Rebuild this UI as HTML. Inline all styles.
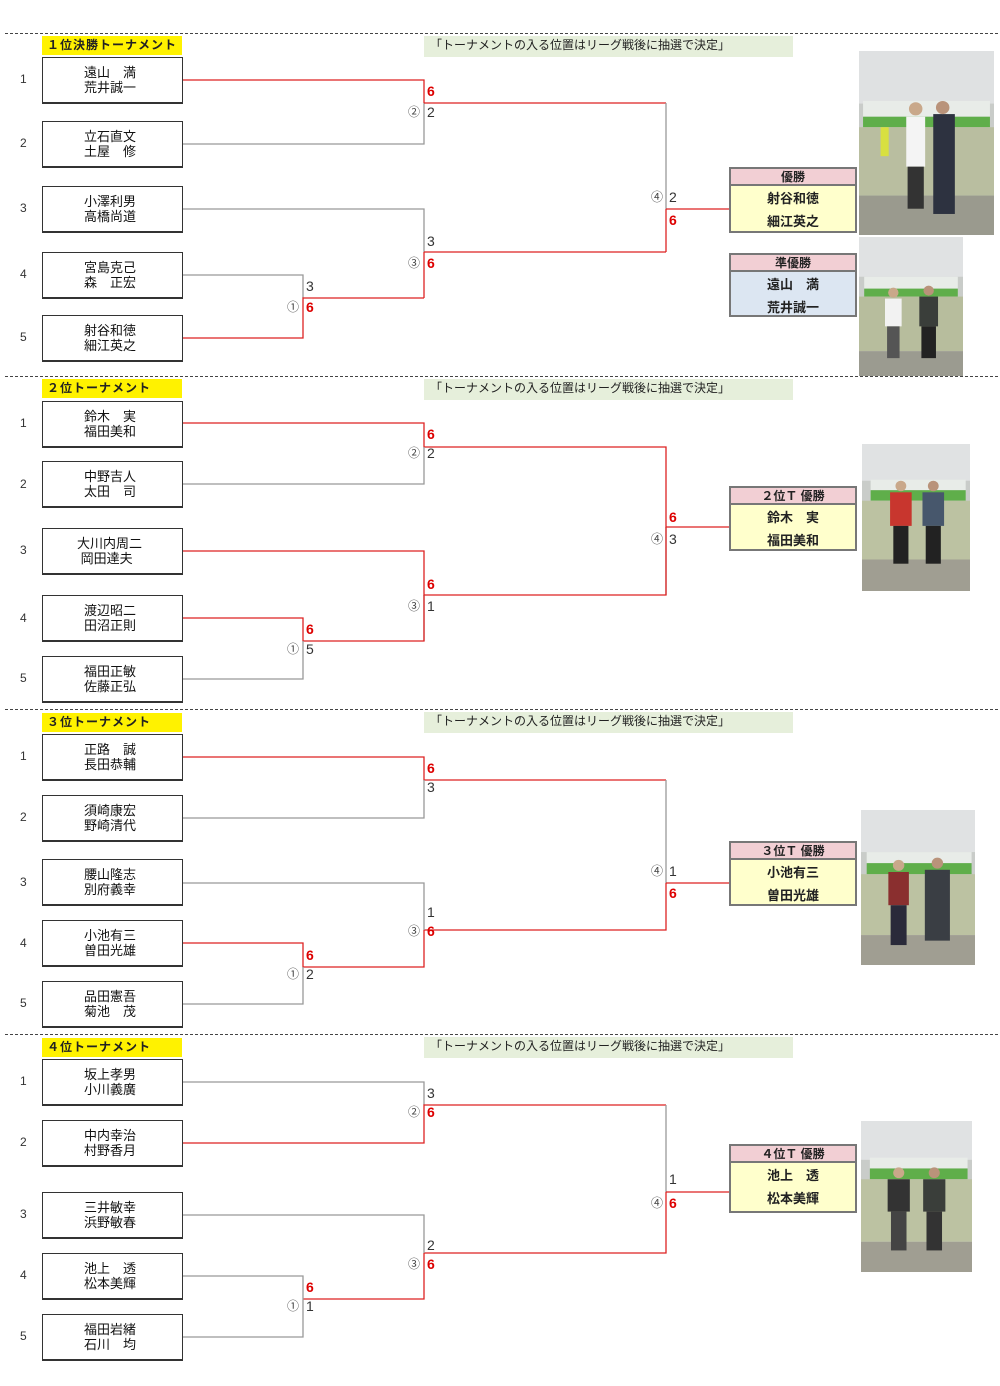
<!DOCTYPE html>
<html><head><meta charset="utf-8">
<style>
*{margin:0;padding:0;box-sizing:border-box}
body{width:1000px;height:1386px;position:relative;background:#fff;font-family:"Liberation Sans","Noto Sans CJK JP",sans-serif;overflow:hidden}
.a{position:absolute}
.dash{position:absolute;left:5px;width:993px;height:0;border-top:1px dashed #444}
.ttl{position:absolute;left:42px;width:140px;height:19px;background:#fff200;font-size:12px;line-height:19px;padding-left:5px;font-weight:bold;color:#222;letter-spacing:1px}
.note{position:absolute;left:424px;width:369px;height:21px;background:#e6efdb;font-size:12px;line-height:19px;padding-left:6px;color:#222}
.bx{position:absolute;left:42px;width:141px;height:47px;border:2px solid #333;border-right-width:1px;border-top-width:1px;border-left-width:1px;border-bottom-width:2px;font-size:13px;line-height:15px;padding-top:7px;padding-left:41px;color:#111;background:#fff}
.n{position:absolute;left:20px;font-size:12px;color:#333}
.s{position:absolute;font-size:14px;line-height:16px;color:#333}
.r{color:#d00;font-weight:bold}
.c{position:absolute;font-size:12px;line-height:16px;color:#444}
.rh{position:absolute;left:729px;width:128px;height:19px;background:#f2cfd4;border:2px solid #777;font-size:12px;font-weight:bold;text-align:center;line-height:16px;color:#222}
.rb{position:absolute;left:729px;width:128px;border:2px solid #777;border-top:none;font-size:13px;font-weight:bold;text-align:center;color:#222;line-height:23px;padding-top:1px}
.ph{position:absolute}
</style></head><body>

<svg class="a" style="left:0;top:0" width="1000" height="1386">
<g fill="none" stroke-width="1.3">
<!-- section1 -->
<path d="M183 80H424V103" stroke="#d22"/>
<path d="M183 144H424V103" stroke="#999"/>
<path d="M424 103H666" stroke="#d22"/>
<path d="M666 103V209" stroke="#999"/>
<path d="M666 209V252" stroke="#d22"/>
<path d="M666 209H729" stroke="#d22"/>
<path d="M183 209H424V252" stroke="#999"/>
<path d="M424 252V298" stroke="#d22"/>
<path d="M424 252H666" stroke="#d22"/>
<path d="M183 275H303V298" stroke="#999"/>
<path d="M183 338H303V298H424" stroke="#d22"/>
<!-- section2 -->
<path d="M183 423H424V447H666V527H729" stroke="#d22"/>
<path d="M183 484H424V447" stroke="#999"/>
<path d="M666 527V595" stroke="#999"/>
<path d="M183 551H424V595H666V527" stroke="#d22"/>
<path d="M424 595V641" stroke="#999"/>
<path d="M183 618H303V641H424V595" stroke="#d22"/>
<path d="M183 679H303V641" stroke="#999"/>
<!-- section3 -->
<path d="M183 757H424V780H666" stroke="#d22"/>
<path d="M183 818H424V780" stroke="#999"/>
<path d="M666 780V883" stroke="#999"/>
<path d="M666 883H729M666 883V930H424" stroke="#d22"/>
<path d="M183 883H424V930" stroke="#999"/>
<path d="M424 930V967H303V943H183" stroke="#d22"/>
<path d="M183 1004H303V967" stroke="#999"/>
<!-- section4 -->
<path d="M183 1082H424V1105" stroke="#999"/>
<path d="M183 1143H424V1105H666" stroke="#d22"/>
<path d="M666 1105V1192" stroke="#999"/>
<path d="M666 1192H729M666 1192V1253H424" stroke="#d22"/>
<path d="M183 1215H424V1253" stroke="#999"/>
<path d="M424 1253V1299H303" stroke="#d22"/>
<path d="M183 1276H303V1337H183" stroke="#999"/>
</g>
</svg>

<!-- Section 1 -->
<div class="dash" style="top:33px"></div>
<div class="ttl" style="top:36px">１位決勝トーナメント</div>
<div class="note" style="top:36px">「トーナメントの入る位置はリーグ戦後に抽選で決定」</div>
<div class="n" style="top:72px">1</div><div class="bx" style="top:57px">遠山　満<br>荒井誠一</div>
<div class="n" style="top:136px">2</div><div class="bx" style="top:121px">立石直文<br>土屋　修</div>
<div class="n" style="top:201px">3</div><div class="bx" style="top:186px">小澤利男<br>高橋尚道</div>
<div class="n" style="top:267px">4</div><div class="bx" style="top:252px">宮島克己<br>森　正宏</div>
<div class="n" style="top:330px">5</div><div class="bx" style="top:315px">射谷和徳<br>細江英之</div>
<div class="s r" style="left:427px;top:83px">6</div><div class="c" style="left:408px;top:104px">②</div><div class="s" style="left:427px;top:104px">2</div>
<div class="s" style="left:427px;top:233px">3</div><div class="c" style="left:408px;top:255px">③</div><div class="s r" style="left:427px;top:255px">6</div>
<div class="s" style="left:306px;top:278px">3</div><div class="c" style="left:287px;top:299px">①</div><div class="s r" style="left:306px;top:299px">6</div>
<div class="c" style="left:651px;top:189px">④</div><div class="s" style="left:669px;top:189px">2</div><div class="s r" style="left:669px;top:212px">6</div>
<div class="rh" style="top:167px">優勝</div>
<div class="rb" style="top:186px;height:47px;background:#ffffcc">射谷和徳<br>細江英之</div>
<div class="rh" style="top:253px">準優勝</div>
<div class="rb" style="top:272px;height:45px;background:#dce6f2">遠山　満<br>荒井誠一</div>

<!-- Section 2 -->
<div class="dash" style="top:376px"></div>
<div class="ttl" style="top:379px">２位トーナメント</div>
<div class="note" style="top:379px">「トーナメントの入る位置はリーグ戦後に抽選で決定」</div>
<div class="n" style="top:416px">1</div><div class="bx" style="top:401px">鈴木　実<br>福田美和</div>
<div class="n" style="top:477px">2</div><div class="bx" style="top:461px">中野吉人<br>太田　司</div>
<div class="n" style="top:543px">3</div><div class="bx" style="top:528px;padding-left:34px">大川内周二<br>&nbsp;岡田達夫</div>
<div class="n" style="top:611px">4</div><div class="bx" style="top:595px">渡辺昭二<br>田沼正則</div>
<div class="n" style="top:671px">5</div><div class="bx" style="top:656px">福田正敏<br>佐藤正弘</div>
<div class="s r" style="left:427px;top:426px">6</div><div class="c" style="left:408px;top:445px">②</div><div class="s" style="left:427px;top:445px">2</div>
<div class="s r" style="left:427px;top:576px">6</div><div class="c" style="left:408px;top:598px">③</div><div class="s" style="left:427px;top:598px">1</div>
<div class="s r" style="left:306px;top:621px">6</div><div class="c" style="left:287px;top:641px">①</div><div class="s" style="left:306px;top:641px">5</div>
<div class="s r" style="left:669px;top:509px">6</div><div class="c" style="left:651px;top:531px">④</div><div class="s" style="left:669px;top:531px">3</div>
<div class="rh" style="top:486px">２位Ｔ 優勝</div>
<div class="rb" style="top:505px;height:46px;background:#ffffcc">鈴木　実<br>福田美和</div>

<!-- Section 3 -->
<div class="dash" style="top:709px"></div>
<div class="ttl" style="top:713px">３位トーナメント</div>
<div class="note" style="top:712px">「トーナメントの入る位置はリーグ戦後に抽選で決定」</div>
<div class="n" style="top:749px">1</div><div class="bx" style="top:734px">正路　誠<br>長田恭輔</div>
<div class="n" style="top:810px">2</div><div class="bx" style="top:795px">須崎康宏<br>野崎清代</div>
<div class="n" style="top:875px">3</div><div class="bx" style="top:859px">腰山隆志<br>別府義幸</div>
<div class="n" style="top:936px">4</div><div class="bx" style="top:920px">小池有三<br>曽田光雄</div>
<div class="n" style="top:996px">5</div><div class="bx" style="top:981px">品田憲吾<br>菊池　茂</div>
<div class="s r" style="left:427px;top:760px">6</div><div class="s" style="left:427px;top:779px">3</div>
<div class="s" style="left:427px;top:904px">1</div><div class="c" style="left:408px;top:923px">③</div><div class="s r" style="left:427px;top:923px">6</div>
<div class="s r" style="left:306px;top:947px">6</div><div class="c" style="left:287px;top:966px">①</div><div class="s" style="left:306px;top:966px">2</div>
<div class="c" style="left:651px;top:863px">④</div><div class="s" style="left:669px;top:863px">1</div><div class="s r" style="left:669px;top:885px">6</div>
<div class="rh" style="top:841px">３位Ｔ 優勝</div>
<div class="rb" style="top:860px;height:46px;background:#ffffcc">小池有三<br>曽田光雄</div>

<!-- Section 4 -->
<div class="dash" style="top:1034px"></div>
<div class="ttl" style="top:1038px">４位トーナメント</div>
<div class="note" style="top:1037px">「トーナメントの入る位置はリーグ戦後に抽選で決定」</div>
<div class="n" style="top:1074px">1</div><div class="bx" style="top:1059px">坂上孝男<br>小川義廣</div>
<div class="n" style="top:1135px">2</div><div class="bx" style="top:1120px">中内幸治<br>村野香月</div>
<div class="n" style="top:1207px">3</div><div class="bx" style="top:1192px">三井敏幸<br>浜野敏春</div>
<div class="n" style="top:1268px">4</div><div class="bx" style="top:1253px">池上　透<br>松本美輝</div>
<div class="n" style="top:1329px">5</div><div class="bx" style="top:1314px">福田岩緒<br>石川　均</div>
<div class="s" style="left:427px;top:1085px">3</div><div class="c" style="left:408px;top:1104px">②</div><div class="s r" style="left:427px;top:1104px">6</div>
<div class="s" style="left:427px;top:1237px">2</div><div class="c" style="left:408px;top:1256px">③</div><div class="s r" style="left:427px;top:1256px">6</div>
<div class="s r" style="left:306px;top:1279px">6</div><div class="c" style="left:287px;top:1298px">①</div><div class="s" style="left:306px;top:1298px">1</div>
<div class="s" style="left:669px;top:1171px">1</div><div class="c" style="left:651px;top:1195px">④</div><div class="s r" style="left:669px;top:1195px">6</div>
<div class="rh" style="top:1144px">４位Ｔ 優勝</div>
<div class="rb" style="top:1163px;height:50px;background:#ffffcc">池上　透<br>松本美輝</div>

<!-- Photos -->
<svg class="ph" style="left:859px;top:51px" width="135" height="184" viewBox="0 0 100 140" preserveAspectRatio="none">
<rect width="100" height="140" fill="#c9ccc9"/><rect y="0" width="100" height="40" fill="#dfe1e2"/>
<rect x="3" y="38" width="94" height="12" fill="#e8ece8"/><rect x="3" y="50" width="94" height="8" fill="#5fae4a"/>
<rect y="58" width="100" height="52" fill="#b9bea0"/><rect y="110" width="100" height="30" fill="#9a9a8e"/>
<rect x="35" y="50" width="14" height="38" fill="#f4f4f4"/><rect x="36" y="88" width="12" height="32" fill="#333"/>
<rect x="55" y="48" width="16" height="76" fill="#2d3240"/><circle cx="42" cy="44" r="5" fill="#c9a88a"/><circle cx="62" cy="43" r="5" fill="#b9937a"/>
<rect x="16" y="58" width="6" height="22" fill="#d8e040"/></svg>
<svg class="ph" style="left:859px;top:237px" width="104" height="139" viewBox="0 0 100 140" preserveAspectRatio="none">
<rect width="100" height="140" fill="#c9ccc9"/><rect width="100" height="40" fill="#e0e2e3"/>
<rect x="5" y="40" width="90" height="12" fill="#e8ece8"/><rect x="5" y="52" width="90" height="8" fill="#5fae4a"/>
<rect y="60" width="100" height="55" fill="#b7bd9d"/><rect y="115" width="100" height="25" fill="#9b9b90"/>
<rect x="25" y="62" width="16" height="28" fill="#f2f2f2"/><rect x="27" y="90" width="12" height="32" fill="#555"/>
<rect x="58" y="60" width="18" height="30" fill="#3a3e3a"/><rect x="60" y="90" width="14" height="32" fill="#222"/>
<circle cx="33" cy="56" r="5" fill="#c9a88a"/><circle cx="67" cy="54" r="5" fill="#b9937a"/></svg>
<svg class="ph" style="left:862px;top:444px" width="108" height="147" viewBox="0 0 100 140" preserveAspectRatio="none">
<rect width="100" height="140" fill="#c9ccc9"/><rect width="100" height="35" fill="#e0e2e3"/>
<rect x="8" y="34" width="88" height="10" fill="#e8ece8"/><rect x="8" y="44" width="88" height="10" fill="#5fae4a"/>
<rect y="54" width="100" height="56" fill="#bcc2a2"/><rect y="110" width="100" height="30" fill="#a09e92"/>
<rect x="26" y="46" width="20" height="32" fill="#c8362e"/><rect x="29" y="78" width="14" height="36" fill="#222"/>
<rect x="56" y="46" width="20" height="32" fill="#47576c"/><rect x="59" y="78" width="14" height="36" fill="#222"/>
<circle cx="36" cy="40" r="5" fill="#c9a88a"/><circle cx="66" cy="40" r="5" fill="#b9937a"/></svg>
<svg class="ph" style="left:861px;top:810px" width="114" height="155" viewBox="0 0 100 140" preserveAspectRatio="none">
<rect width="100" height="140" fill="#c9ccc9"/><rect width="100" height="38" fill="#e0e2e3"/>
<rect x="5" y="38" width="92" height="10" fill="#e8ece8"/><rect x="5" y="48" width="92" height="10" fill="#5fae4a"/>
<rect y="58" width="100" height="55" fill="#bcc2a2"/><rect y="113" width="100" height="27" fill="#a09e92"/>
<rect x="24" y="56" width="18" height="30" fill="#8a2f2f"/><rect x="26" y="86" width="14" height="36" fill="#2a2a3a"/>
<rect x="56" y="54" width="22" height="64" fill="#3a3e44"/>
<circle cx="33" cy="50" r="5" fill="#c9a88a"/><circle cx="67" cy="48" r="5" fill="#b9937a"/></svg>
<svg class="ph" style="left:861px;top:1121px" width="111" height="151" viewBox="0 0 100 140" preserveAspectRatio="none">
<rect width="100" height="140" fill="#c9ccc9"/><rect width="100" height="36" fill="#e0e2e3"/>
<rect x="8" y="34" width="88" height="10" fill="#e8ece8"/><rect x="8" y="44" width="88" height="10" fill="#5fae4a"/>
<rect y="54" width="100" height="58" fill="#bcc2a2"/><rect y="112" width="100" height="28" fill="#a09e92"/>
<rect x="24" y="54" width="20" height="30" fill="#333"/><rect x="27" y="84" width="14" height="36" fill="#444"/>
<rect x="56" y="54" width="20" height="30" fill="#3a3e3a"/><rect x="59" y="84" width="14" height="36" fill="#333"/>
<circle cx="34" cy="48" r="5" fill="#c9a88a"/><circle cx="66" cy="48" r="5" fill="#b9937a"/></svg>
</body></html>
